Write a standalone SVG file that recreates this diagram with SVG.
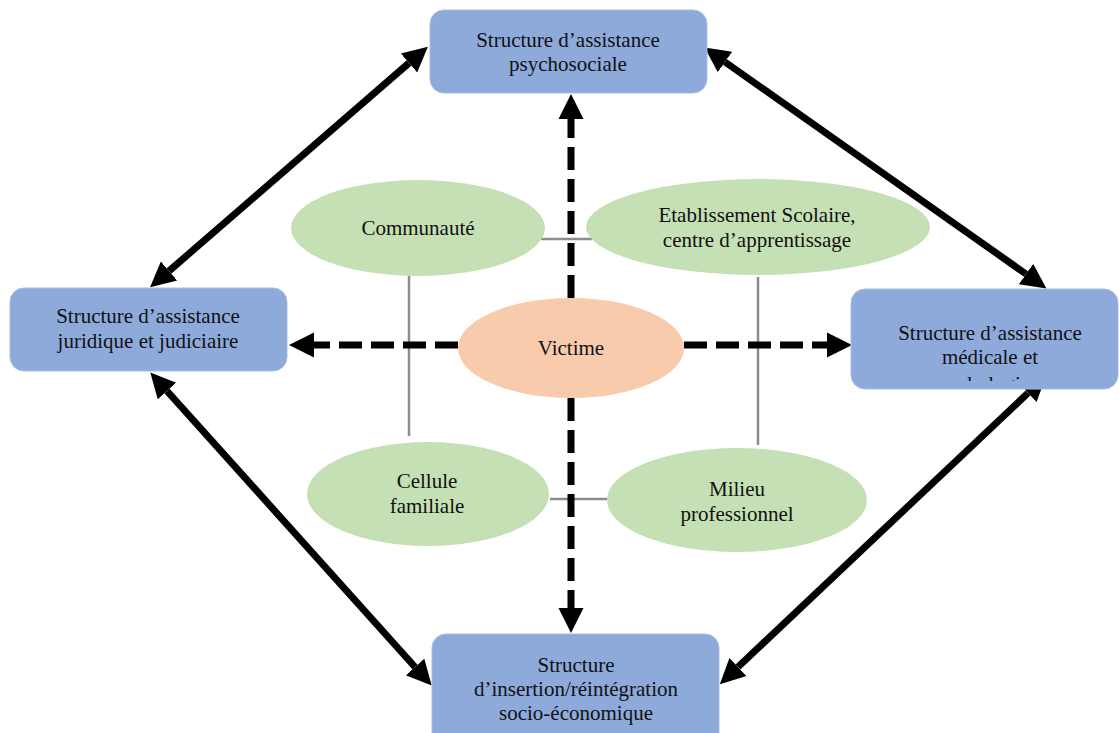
<svg xmlns="http://www.w3.org/2000/svg" width="1119" height="733" viewBox="0 0 1119 733">
<defs>
<style>
.box{fill:#8eaadb;stroke:#a8bde6;stroke-width:1}
.ell{fill:#c5e0b4}
.vic{fill:#f8cbad}
text{font-family:"Liberation Serif","Times New Roman",serif;font-size:21px;fill:#111;text-anchor:middle}
.thin{stroke:#8c8c8c;stroke-width:2.5;fill:none}
.solid{stroke:#000;stroke-width:7;fill:none;marker-start:url(#ah);marker-end:url(#ah)}
.dash{stroke:#000;stroke-width:7;fill:none;stroke-dasharray:23 9;marker-end:url(#ah)}
</style>
<marker id="ah" markerUnits="userSpaceOnUse" markerWidth="27" markerHeight="28" viewBox="0 -14 27 28" refX="0" refY="0" orient="auto-start-reverse">
<path d="M0,-12.5 L25,0 L0,12.5 z" fill="#000"/>
</marker>
<clipPath id="clipMed"><rect x="851" y="289" width="268" height="92"/></clipPath>
</defs>
<rect width="1119" height="733" fill="#fff"/>

<g id="connectors">
<line class="thin" x1="541" y1="239" x2="592" y2="239"/>
<line class="thin" x1="409" y1="276" x2="409" y2="436"/>
<line class="thin" x1="758" y1="277" x2="758" y2="445"/>
<line class="thin" x1="550" y1="499" x2="608" y2="499"/>
<line class="dash" x1="571" y1="298" x2="571" y2="119"/>
<line class="dash" x1="571" y1="398" x2="571" y2="608"/>
<line class="dash" x1="458" y1="345" x2="314" y2="345"/>
<line class="dash" x1="684" y1="345" x2="827" y2="345"/>
<line class="solid" x1="409" y1="63" x2="169" y2="271"/>
<line class="solid" x1="725" y1="62" x2="1026" y2="274"/>
<line class="solid" x1="167" y1="391" x2="415" y2="667"/>
<line class="solid" x1="1028" y1="393" x2="738" y2="667"/>
</g>

<g id="communaute">
<ellipse class="ell" cx="418" cy="228" rx="127" ry="48"/>
<text x="418" y="235">Communauté</text>
</g>
<g id="etablissement">
<ellipse class="ell" cx="758" cy="227" rx="172" ry="48"/>
<text x="757" y="222">Etablissement Scolaire,</text>
<text x="757" y="247">centre d’apprentissage</text>
</g>
<g id="cellule">
<ellipse class="ell" cx="428" cy="494" rx="121" ry="52"/>
<text x="427" y="488">Cellule</text>
<text x="427" y="513">familiale</text>
</g>
<g id="milieu">
<ellipse class="ell" cx="737" cy="500" rx="130" ry="52"/>
<text x="737" y="496">Milieu</text>
<text x="737" y="521">professionnel</text>
</g>
<g id="victime">
<ellipse class="vic" cx="571" cy="348" rx="113" ry="50"/>
<text x="571" y="355">Victime</text>
</g>

<g id="psychosociale">
<rect class="box" x="430" y="10" width="277" height="83" rx="14"/>
<text x="568" y="47">Structure d’assistance</text>
<text x="568" y="71">psychosociale</text>
</g>
<g id="juridique">
<rect class="box" x="10" y="288" width="277" height="83" rx="14"/>
<text x="148" y="323">Structure d’assistance</text>
<text x="148" y="348">juridique et judiciaire</text>
</g>
<g id="medicale">
<rect class="box" x="851" y="289" width="267" height="100" rx="14"/>
<g clip-path="url(#clipMed)">
<text x="990" y="340">Structure d’assistance</text>
<text x="990" y="364">médicale et</text>
<text x="990" y="391">psychologique</text>
</g>
</g>
<g id="insertion">
<rect class="box" x="432" y="634" width="287" height="115" rx="14"/>
<text x="576" y="672">Structure</text>
<text x="576" y="696">d’insertion/réintégration</text>
<text x="576" y="720">socio-économique</text>
</g>
</svg>
